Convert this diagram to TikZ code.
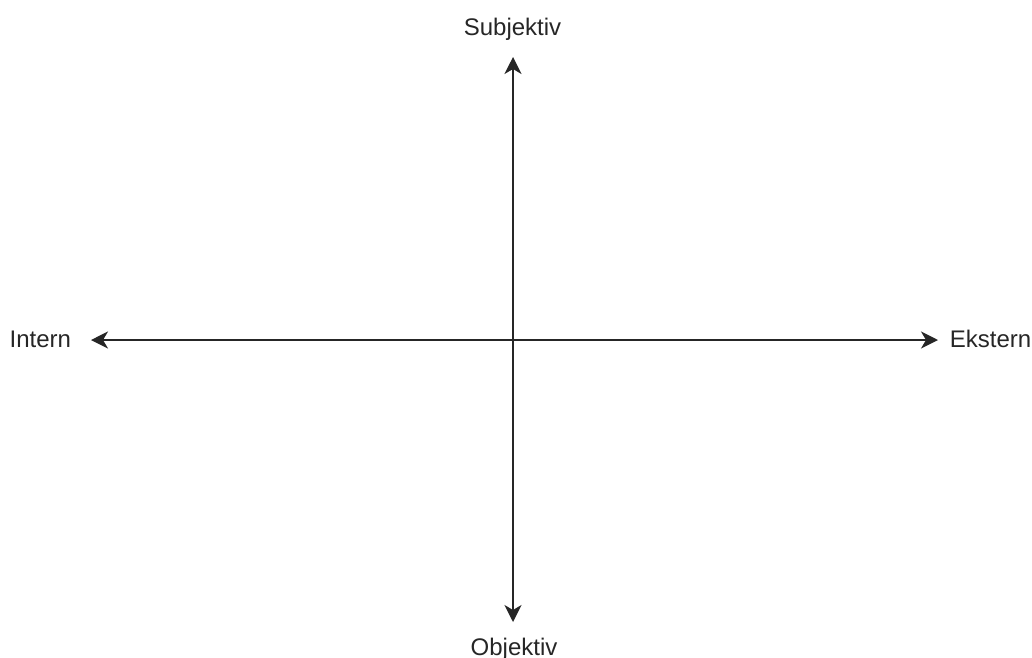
\documentclass[tikz,border=0pt]{standalone}
\usepackage{fontspec}
\setmainfont{Liberation Sans}
\usetikzlibrary{arrows.meta}
\begin{document}
\begin{tikzpicture}[x=1pt,y=-1pt,
  axis/.style={line width=1.7pt, color=black!85, {Stealth[length=17pt,width=17pt,inset=5pt]}-{Stealth[length=17pt,width=17pt,inset=5pt]}},
  lbl/.style={inner sep=0pt, font=\fontsize{24}{28}\selectfont, text=black!85}]
\useasboundingbox (0,0) rectangle (1032,657);
\coordinate (top) at (513,57);
\coordinate (bot) at (513,622);
\coordinate (left) at (91,340);
\coordinate (right) at (938,340);
\draw[axis] (bot) -- (top);
\draw[axis] (left) -- (right);
\node[lbl, anchor=base] (subj) at (512.5,35) {Subjektiv};
\node[lbl, anchor=base] (obj) at (514,655) {Objektiv};
\node[lbl, anchor=base west] (int) at (9.5,347) {Intern};
\node[lbl, anchor=base east] (ext) at (1031.5,347) {Ekstern};
\end{tikzpicture}
\end{document}
